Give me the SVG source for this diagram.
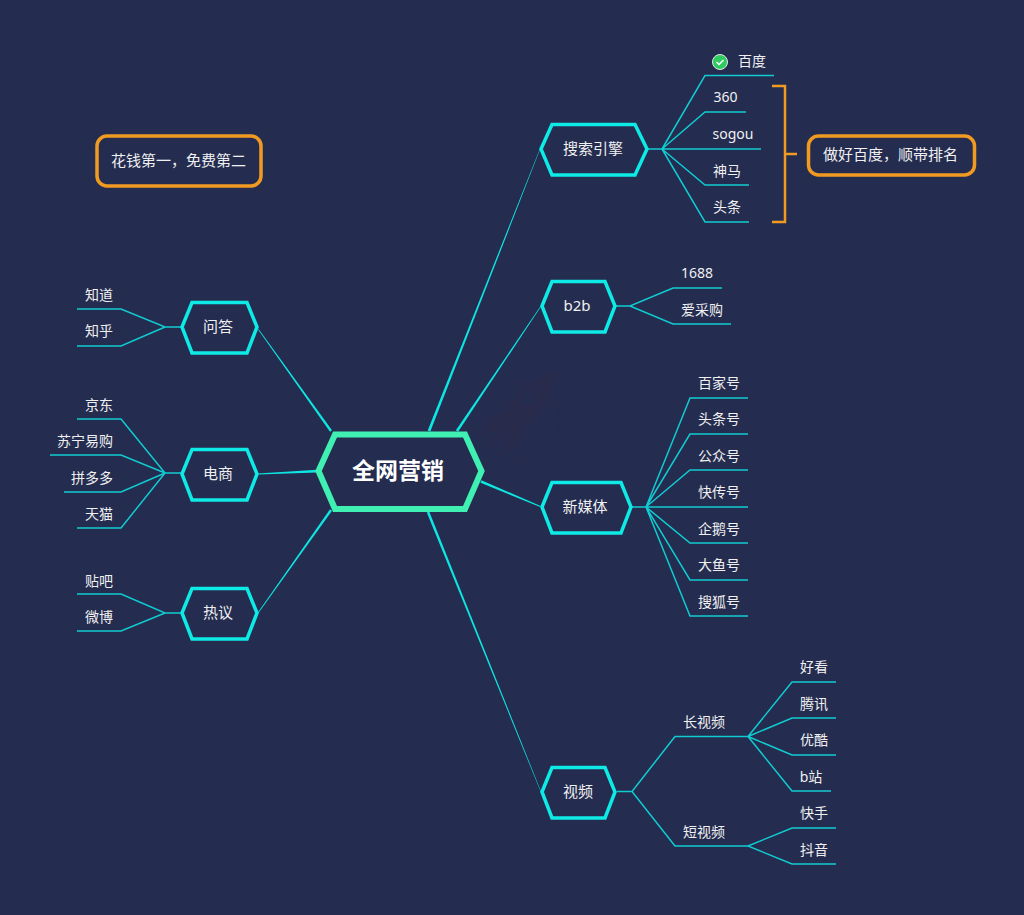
<svg xmlns="http://www.w3.org/2000/svg" width="1024" height="915" viewBox="0 0 1024 915">
<style>
text{font-family:"Noto Sans","Noto Sans CJK SC",sans-serif;fill:#f0f0f0;font-size:14px;text-anchor:middle}
.sub{font-size:15px}
.root{font-size:23px;font-weight:700;fill:#fff}
.hex{fill:#242c50;stroke:#0eeae6;stroke-width:3.5;stroke-linejoin:miter}
.note{fill:#242c50;stroke:#f09a22;stroke-width:3.5}
.l{fill:none;stroke:#10ccd0;stroke-width:1.5}
.t{fill:#0ee6e2}
</style>
<rect width="1024" height="915" fill="#242c50"/>
<g id="watermark">
<circle cx="520" cy="421" r="39" fill="none" stroke="#272c4e" stroke-width="2"/>
<path fill="#292b4c" fill-rule="evenodd" d="M557 370C535 378 515 392 505 412L491 417L479 437L496 431L490 444L504 438L503 456L520 443L524 428C542 415 553 394 557 370ZM521 398A7 7 0 1 0 535 398A7 7 0 1 0 521 398Z"/>
</g>
<g id="connectors">
<polygon class="t" points="427.700,430.500 430.300,431.500 540.200,149.100 539.800,148.900"/>
<polygon class="t" points="455.900,430.200 458.100,431.800 541.200,306.200 540.800,305.800"/>
<polygon class="t" points="481.500,480.300 480.500,482.700 540.200,507 540.500,506"/>
<polygon class="t" points="426.800,512.500 429.200,511.500 541.200,791.900 540.800,792.100"/>
<polygon class="t" points="332,430.300 330,431.700 258.200,329.800 258.800,329.200"/>
<polygon class="t" points="316.900,469.800 317.100,472.400 258,474.500 258,473.500"/>
<polygon class="t" points="330,509.300 332,510.700 258.300,613.200 257.700,612.800"/>
<path class="l" d="M648 149H662M662 149L705 75.500H774M662 149L705 112H746M662 149H761M662 149L705 185H749M662 149L705 222H749"/>
<path class="l" d="M616 306H630L673 288H722M630 306L673 324H731"/>
<path class="l" d="M632 507H646L690 398H748M646 507L690 434H748M646 507L690 470H748M646 507H748M646 507L690 543H748M646 507L690 580H748M646 507L690 616H748"/>
<path class="l" d="M617 791.500H632L675 736.500H748M632 791.500L675 846H748"/>
<path class="l" d="M748 736.500L792 682H836M748 736.500L792 718H836M748 736.500L792 755H836M748 736.500L792 791H831M748 846L792 828H836M748 846L792 864H836"/>
<path class="l" d="M181 327H165L121 309H77M165 327L121 346H77"/>
<path class="l" d="M181 473H165L121 419H77M165 473L121 455H50M165 473L121 492H64M165 473L121 528H77"/>
<path class="l" d="M181 613H165L121 594H77M165 613L121 631H77"/>
<path fill="none" stroke="#f09a22" stroke-width="2.500" d="M772 86H785V222H772M785 154H797"/>
</g>
<g id="root"><polygon points="318.500,471 335,434.500 465,434.500 481.500,471 465,509 335,509" fill="#242c50" stroke="#40f0b2" stroke-width="6"/><text class="root" x="398" y="479">全网营销</text></g>
<g id="n-search"><polygon class="hex" points="541,149 552,124.500 635,124.500 647,149 635,175 552,175"/><text class="sub" x="593" y="154">搜索引擎</text></g>
<g id="n-b2b"><polygon class="hex" points="542,306 552,281.500 605,281.500 615,306 605,332 552,332"/><text class="sub" x="577" y="311">b2b</text></g>
<g id="n-media"><polygon class="hex" points="542,507 552,482.500 621,482.500 631,507 621,533 552,533"/><text class="sub" x="585" y="512">新媒体</text></g>
<g id="n-video"><polygon class="hex" points="542,792 552,767.500 605,767.500 615,792 605,818 552,818"/><text class="sub" x="578" y="797">视频</text></g>
<g id="n-qa"><polygon class="hex" points="182,327 192,302.500 247,302.500 257,327 247,353 192,353"/><text class="sub" x="218" y="332">问答</text></g>
<g id="n-shop"><polygon class="hex" points="182,474 192,449.500 247,449.500 257,474 247,500 192,500"/><text class="sub" x="218" y="479">电商</text></g>
<g id="n-hot"><polygon class="hex" points="182,613 192,588.500 247,588.500 257,613 247,639 192,639"/><text class="sub" x="218" y="618">热议</text></g>
<g id="note-left"><rect class="note" x="97" y="136" width="164" height="50" rx="10"/><text x="178.500" y="166" style="font-size:15px">花钱第一，免费第二</text></g>
<g id="note-right"><rect class="note" x="808.500" y="136" width="166" height="39" rx="10"/><text x="890.500" y="160" style="font-size:15px">做好百度，顺带排名</text></g>
<g id="leaves">
<g id="baidu-icon"><circle cx="720" cy="62" r="7.500" fill="#2ecc60" stroke="#e8e8e8" stroke-width="1"/><path d="M716.500 62l2.500 2.500 4.500-4.500" fill="none" stroke="#fff" stroke-width="1.500"/></g>
<text x="752" y="66">百度</text><text x="725.500" y="102">360</text><text x="733" y="139">sogou</text><text x="727" y="176">神马</text><text x="727" y="212">头条</text>
<text x="697" y="278">1688</text><text x="702" y="315">爱采购</text>
<text x="719" y="388">百家号</text><text x="719" y="424">头条号</text><text x="719" y="461">公众号</text><text x="719" y="497">快传号</text><text x="719" y="534">企鹅号</text><text x="719" y="570">大鱼号</text><text x="719" y="607">搜狐号</text>
<text x="704" y="727">长视频</text><text x="704" y="837">短视频</text>
<text x="814" y="672">好看</text><text x="814" y="709">腾讯</text><text x="814" y="745">优酷</text><text x="811" y="782">b站</text><text x="814" y="818">快手</text><text x="814" y="855">抖音</text>
<text x="99" y="300">知道</text><text x="99" y="336">知乎</text>
<text x="99" y="410">京东</text><text x="85" y="446">苏宁易购</text><text x="92" y="483">拼多多</text><text x="99" y="519">天猫</text>
<text x="99" y="586">贴吧</text><text x="99" y="622">微博</text>
</g>
</svg>
